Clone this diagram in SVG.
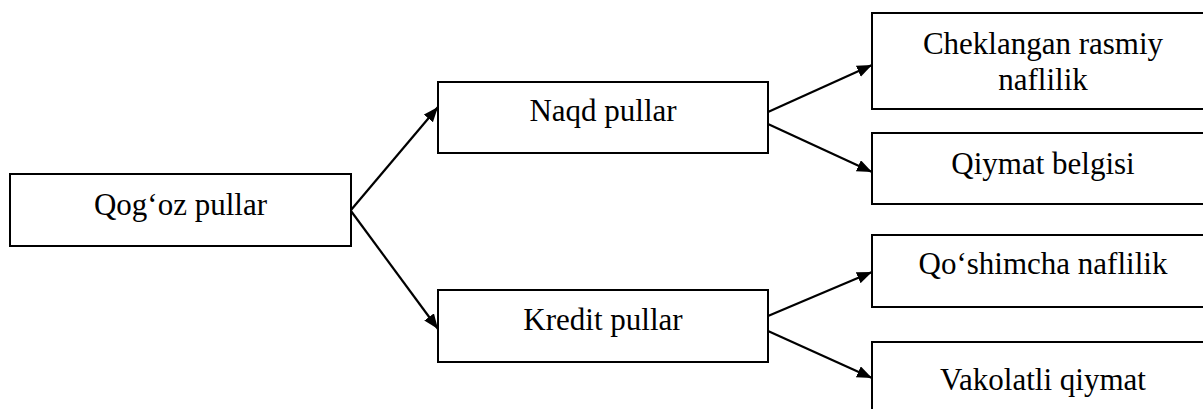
<svg xmlns="http://www.w3.org/2000/svg" width="1203" height="409" viewBox="0 0 1203 409">
<style>
  .box { fill: #ffffff; stroke: #000000; stroke-width: 2; }
  .lbl { font-family: "Liberation Serif", "Times New Roman", serif; font-size: 31px; fill: #000000; text-anchor: middle; }
  .edge { stroke: #000000; stroke-width: 2.2; fill: none; marker-end: url(#arrow); }
</style>
<defs>
  <marker id="arrow" markerUnits="userSpaceOnUse" markerWidth="18" markerHeight="14" refX="15" refY="6" orient="auto">
    <path d="M0,0 L15,6 L0,12 z" fill="#000000"/>
  </marker>
</defs>
<rect x="0" y="0" width="1203" height="409" fill="#ffffff"/>
<g id="connectors">
  <line class="edge" x1="351" y1="210" x2="438" y2="107"/>
  <line class="edge" x1="351" y1="211" x2="438" y2="329"/>
  <line class="edge" x1="768" y1="112" x2="872" y2="65"/>
  <line class="edge" x1="768" y1="124" x2="872" y2="172"/>
  <line class="edge" x1="768" y1="316" x2="872" y2="272"/>
  <line class="edge" x1="768" y1="331" x2="872" y2="378"/>
</g>
<g id="node-qogoz">
  <rect class="box" x="10" y="174" width="341" height="72"/>
  <text class="lbl" x="180.5" y="214.5">Qog‘oz pullar</text>
</g>
<g id="node-naqd">
  <rect class="box" x="438" y="82" width="330" height="71"/>
  <text class="lbl" x="603" y="121">Naqd pullar</text>
</g>
<g id="node-kredit">
  <rect class="box" x="438" y="290" width="330" height="72"/>
  <text class="lbl" x="603" y="329.5">Kredit pullar</text>
</g>
<g id="node-cheklangan">
  <rect class="box" x="872" y="13" width="400" height="96"/>
  <text class="lbl" x="1043" y="53.5">Cheklangan rasmiy</text>
  <text class="lbl" x="1043" y="89.5">naflilik</text>
</g>
<g id="node-qiymat">
  <rect class="box" x="872" y="133" width="400" height="71"/>
  <text class="lbl" x="1043" y="173.5">Qiymat belgisi</text>
</g>
<g id="node-qoshimcha">
  <rect class="box" x="872" y="235" width="400" height="72"/>
  <text class="lbl" x="1043" y="273.5">Qo‘shimcha naflilik</text>
</g>
<g id="node-vakolatli">
  <rect class="box" x="872" y="342" width="400" height="100"/>
  <text class="lbl" x="1043" y="390">Vakolatli qiymat</text>
</g>
</svg>
